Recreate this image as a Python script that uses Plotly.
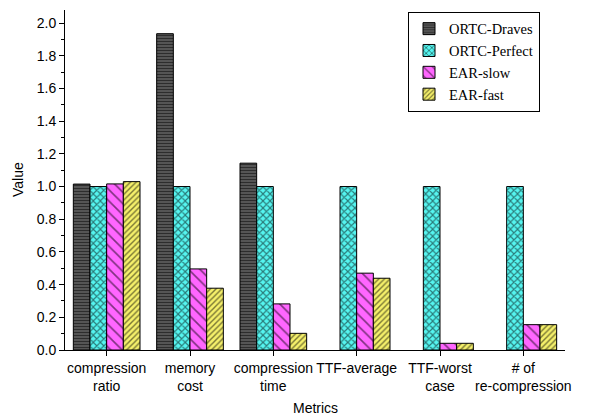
import plotly.graph_objects as go

categories = ["compression<br>ratio", "memory<br>cost", "compression<br>time",
              "TTF-average", "TTF-worst<br>case", "# of<br>re-compression"]
ortc_draves = [1.015, 1.935, 1.143, None, None, None]
ortc_perfect = [1.0, 1.0, 1.0, 1.0, 1.0, 1.0]
ear_slow = [1.016, 0.496, 0.282, 0.47, 0.041, 0.155]
ear_fast = [1.03, 0.378, 0.102, 0.439, 0.041, 0.155]

series = [
    ("ORTC-Draves", ortc_draves, "#5a5a5a", "-", 3, 0.4),
    ("ORTC-Perfect", ortc_perfect, "#55f5f0", "x", 5, 0.4),
    ("EAR-slow", ear_slow, "#ff66ff", "\\", 8, 0.2),
    ("EAR-fast", ear_fast, "#f5f06a", "/", 4, 0.35),
]

fig = go.Figure()
for name, vals, col, shape, size, sol in series:
    fig.add_trace(go.Bar(
        name=name, x=categories, y=vals,
        marker=dict(color=col, line=dict(color="black", width=1),
                    pattern=dict(shape=shape, fgcolor="black", bgcolor=col,
                                 size=size, solidity=sol, fillmode="overlay")),
    ))

W, H = 603, 419
ML, MR, MT, MB = 65, 38, 10, 69
plot_w, plot_h = W - ML - MR, H - MT - MB

fig.update_layout(
    width=W, height=H,
    margin=dict(l=ML, r=MR, t=MT, b=MB, autoexpand=False),
    paper_bgcolor="white", plot_bgcolor="white",
    barmode="group", bargap=0.2, bargroupgap=0,
    font=dict(family="Liberation Sans, Arial", size=14, color="black"),
    legend=dict(x=0.686, y=0.995, xanchor="left", yanchor="top",
                bordercolor="black", borderwidth=1, bgcolor="white",
                font=dict(family="Liberation Serif, Times New Roman", size=14.5),
                tracegroupgap=0, itemwidth=30),
    showlegend=True,
    annotations=[
        dict(text="Metrics", xref="paper", yref="paper", x=0.5,
             y=-58 / plot_h, xanchor="center", yanchor="middle",
             showarrow=False, font=dict(size=14)),
        dict(text="Value", xref="paper", yref="paper",
             x=-47 / plot_w, y=0.5, textangle=-90,
             xanchor="center", yanchor="middle", showarrow=False,
             font=dict(size=14)),
    ],
)
fig.update_xaxes(
    automargin=False,
    showline=True, linecolor="black", linewidth=1,
    ticks="outside", ticklen=5, tickcolor="black",
    range=[-0.5, 5.5],
    tickfont=dict(size=14),
)
fig.update_yaxes(
    automargin=False,
    showline=True, linecolor="black", linewidth=1,
    range=[0, 2.08], dtick=0.2, tickformat=".1f",
    ticks="outside", ticklen=5, tickcolor="black",
    minor=dict(dtick=0.1, ticks="outside", ticklen=3, tickcolor="black"),
    showgrid=False, zeroline=False,
    tickfont=dict(size=14),
)

fig.write_html("out.html")
